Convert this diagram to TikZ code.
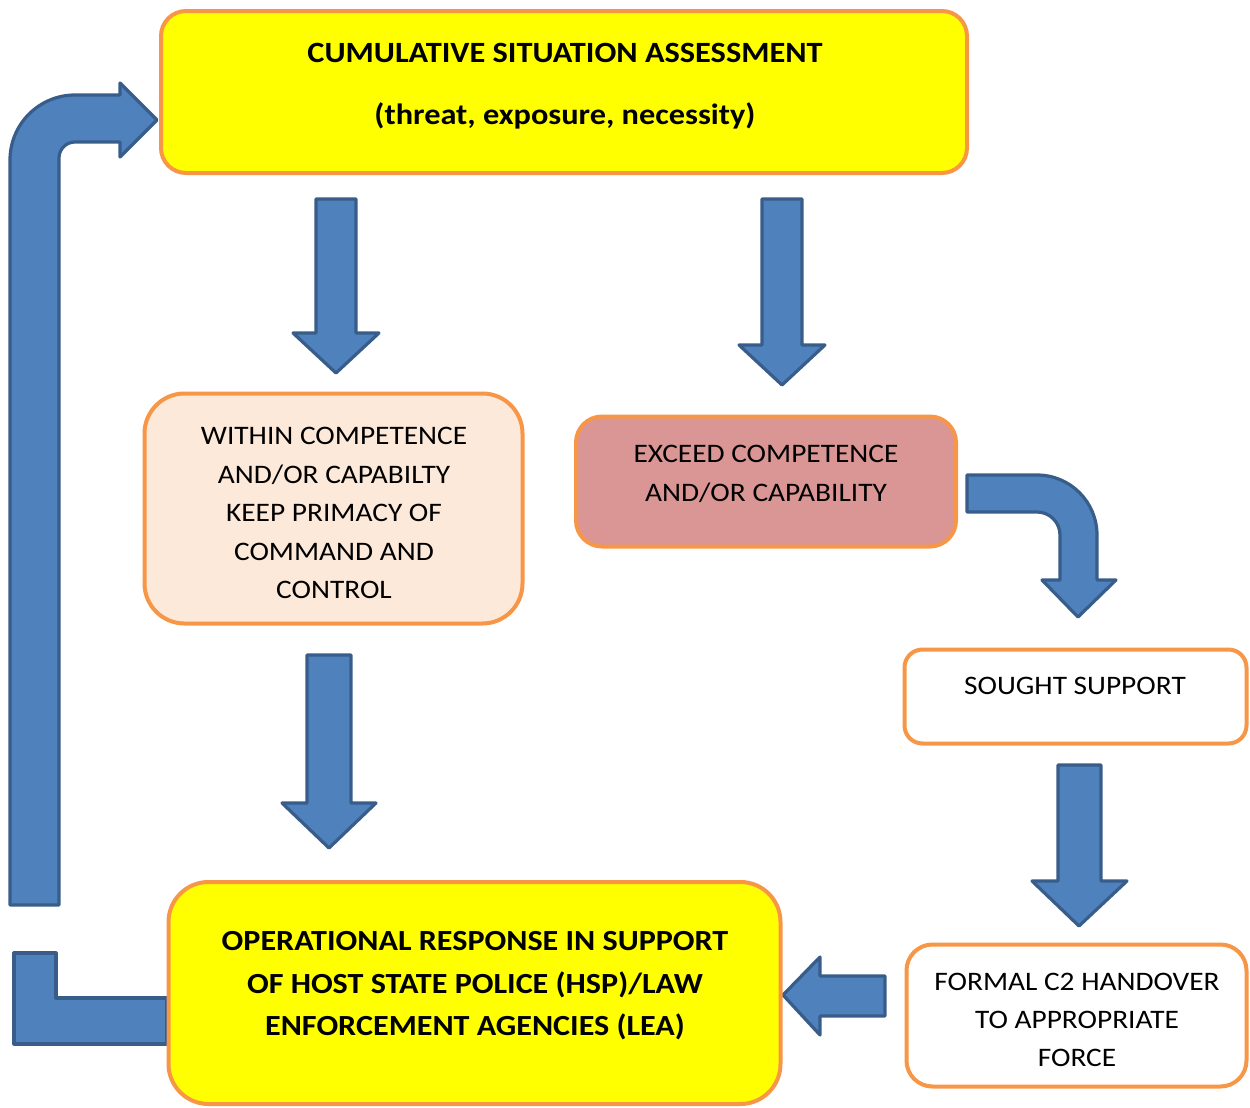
\documentclass[tikz,border=0pt]{standalone}
\usepackage{fontspec}
\setmainfont{Carlito}[FakeStretch=1.1]
\definecolor{arrfill}{HTML}{4F81BD}
\definecolor{arrline}{HTML}{385D8A}
\definecolor{boxline}{HTML}{F79646}
\definecolor{hiyellow}{HTML}{FFFF00}
\definecolor{peach}{HTML}{FDE9D9}
\definecolor{rose}{HTML}{D99694}
\begin{document}
\begin{tikzpicture}[x=0.5pt,y=0.5pt,
  blockarrow/.style={fill=arrfill,draw=arrline,line width=1.6pt,line join=round},
  box/.style={draw=boxline,line width=2pt,rounded corners=#1,inner sep=0pt},
  txt/.style={align=center,inner sep=0pt,text=black}]
\useasboundingbox (0,0) rectangle (1250,-1108);

% ---------- block arrows ----------
% loop arrow (bottom box back to top box)
\draw[blockarrow] (10,-905) -- (10,-160) arc[start angle=180,end angle=90,radius=65]
  -- (120,-95) -- (120,-83) -- (157,-120) -- (120,-157) -- (120,-142) -- (75,-142)
  arc[start angle=90,end angle=180,radius=16] -- (59,-905) -- cycle;
% L-shaped tail at bottom box
\draw[blockarrow] (14,-953) -- (56,-953) -- (56,-998) -- (167,-998) -- (167,-1044) -- (14,-1044) -- cycle;
% csa -> within
\draw[blockarrow] (316,-199) -- (356,-199) -- (356,-333) -- (379,-333) -- (336,-373) -- (293,-333) -- (316,-333) -- cycle;
% csa -> exceed
\draw[blockarrow] (762,-199) -- (802,-199) -- (802,-345) -- (825,-345) -- (782,-385) -- (739,-345) -- (762,-345) -- cycle;
% within -> operational
\draw[blockarrow] (307,-655) -- (351,-655) -- (351,-803) -- (376,-803) -- (329,-848) -- (282,-803) -- (307,-803) -- cycle;
% sought -> formal
\draw[blockarrow] (1058,-765) -- (1101,-765) -- (1101,-881) -- (1127,-881) -- (1079,-926) -- (1032,-881) -- (1058,-881) -- cycle;
% formal -> operational
\draw[blockarrow] (885,-976) -- (885,-1016) -- (820,-1016) -- (820,-1035) -- (783,-995) -- (820,-957) -- (820,-976) -- cycle;
% exceed -> sought (curved)
\draw[blockarrow] (967,-475) -- (1037,-475) arc[start angle=90,end angle=0,radius=60]
  -- (1097,-580) -- (1116,-580) -- (1078,-617) -- (1042,-580) -- (1060,-580) -- (1060,-535)
  arc[start angle=0,end angle=90,radius=23] -- (967,-512) -- cycle;

% ---------- boxes ----------
\node[box=12.5pt,fill=hiyellow,minimum width=403pt,minimum height=81pt] (csa) at (564,-92) {};
\node[txt,font=\fontsize{14.7}{31}\selectfont\bfseries] (csa-t) at (565,-86)
  {CUMULATIVE SITUATION ASSESSMENT\\(threat, exposure, necessity)};

\node[box=20pt,fill=peach,minimum width=189pt,minimum height=115pt] (within) at (333.5,-508.5) {};
\node[txt,font=\fontsize{13.35}{19.25}\selectfont] (within-t) at (334,-513)
  {WITHIN COMPETENCE\\AND/OR CAPABILTY\\KEEP PRIMACY OF\\COMMAND AND\\CONTROL};

\node[box=13pt,fill=rose,minimum width=190pt,minimum height=65pt] (exceed) at (766,-481.5) {};
\node[txt,font=\fontsize{13.35}{19.5}\selectfont] (exceed-t) at (766,-474)
  {EXCEED COMPETENCE\\AND/OR CAPABILITY};

\node[box=9pt,fill=white,minimum width=171pt,minimum height=47pt] (sought) at (1075.5,-696.5) {};
\node[txt,font=\fontsize{13.35}{19}\selectfont] (sought-t) at (1075,-686) {SOUGHT SUPPORT};

\node[box=13pt,fill=white,minimum width=170pt,minimum height=71pt] (formal) at (1076.5,-1015.5) {};
\node[txt,font=\fontsize{13.35}{19}\selectfont] (formal-t) at (1077,-1020)
  {FORMAL C2 HANDOVER\\TO APPROPRIATE\\FORCE};

\node[box=20pt,fill=hiyellow,minimum width=306pt,minimum height=111pt] (oper) at (474.5,-993) {};
\node[txt,font=\fontsize{14.6}{21.25}\selectfont\bfseries] (oper-t) at (475,-986)
  {OPERATIONAL RESPONSE IN SUPPORT\\OF HOST STATE POLICE (HSP)/LAW\\ENFORCEMENT AGENCIES (LEA)};
\end{tikzpicture}
\end{document}
